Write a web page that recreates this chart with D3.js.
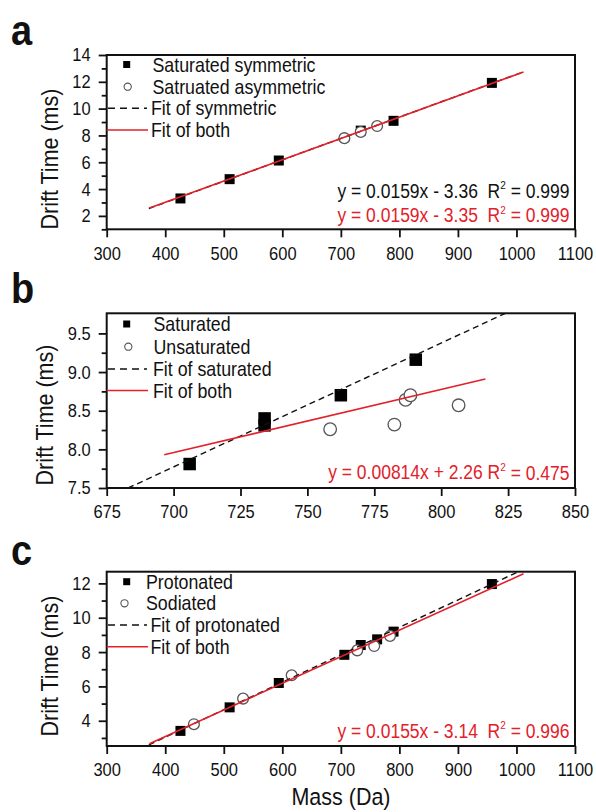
<!DOCTYPE html>
<html>
<head>
<meta charset="utf-8">
<script src="https://cdn.jsdelivr.net/npm/d3@7/dist/d3.min.js"></script>
<style>
  html, body { margin: 0; padding: 0; background: #fff; }
  svg text { font-family: Arial, "Liberation Sans", Helvetica, sans-serif; fill: #111;
    transform-box: fill-box; transform-origin: center; transform: scaleY(1.12); }
</style>
</head>
<body>
<svg id="chart" width="596" height="812"></svg>
<script>
// ---------- DATA ----------
// Panel a
const aSymMass  = [426, 510, 594, 734, 790, 958];
const aSymTime  = [3.30, 4.74, 6.13, 8.36, 9.09, 11.92];
const aAsymMass = [706, 734, 762];
const aAsymTime = [7.80, 8.26, 8.70];
const aFitSym   = [[372, 2.55], [1013, 12.76]];
const aFitBoth  = [[373, 2.58], [1012, 12.74]];
const aLegend   = ["Saturated symmetric", "Satruated asymmetric", "Fit of symmetric", "Fit of both"];
const aEqBlack  = ["y = 0.0159x - 3.36  R", "2", " = 0.999"];
const aEqRed    = ["y = 0.0159x - 3.35  R", "2", " = 0.999"];
const aXTicks   = [300, 400, 500, 600, 700, 800, 900, 1000, 1100];
const aYTicks   = [2, 4, 6, 8, 10, 12, 14];
const aYMinor   = [1, 3, 5, 7, 9, 11, 13];

// Panel b
const bSatMass   = [706, 734, 734, 762.5, 790.5];
const bSatTime   = [7.81, 8.31, 8.40, 8.70, 9.16];
const bUnsatMass = [758.5, 782.5, 786.7, 788.5, 806.5];
const bUnsatTime = [8.26, 8.32, 8.64, 8.70, 8.57];
const bFitSat    = [[683, 7.50], [824, 9.76]];
const bFitBoth   = [[696.5, 7.93], [816.5, 8.91]];
const bLegend    = ["Saturated", "Unsaturated", "Fit of saturated", "Fit of both"];
const bEqRed     = ["y = 0.00814x + 2.26 R", "2", " = 0.475"];
const bXTicks    = [675, 700, 725, 750, 775, 800, 825, 850];
const bYTicks    = [7.5, 8.0, 8.5, 9.0, 9.5];
const bYMinor    = [7.75, 8.25, 8.75, 9.25];

// Panel c
const cProtMass = [426, 510, 594, 706, 734, 762, 790, 958];
const cProtTime = [3.41, 4.78, 6.20, 7.84, 8.41, 8.74, 9.19, 11.96];
const cSodMass  = [449, 533, 616, 728, 757, 784];
const cSodTime  = [3.80, 5.29, 6.65, 8.10, 8.35, 8.94];
const cFitProt  = [[372, 2.60], [1003, 12.68]];
const cFitBoth  = [[373, 2.66], [1012, 12.56]];
const cLegend   = ["Protonated", "Sodiated", "Fit of protonated", "Fit of both"];
const cEqRed    = ["y = 0.0155x - 3.14  R", "2", " = 0.996"];
const cXTicks   = [300, 400, 500, 600, 700, 800, 900, 1000, 1100];
const cYTicks   = [4, 6, 8, 10, 12];
const cYMinor   = [3, 5, 7, 9, 11];

// ---------- DRAW ----------
const RED = "#e3202a";
const svg = d3.select("#chart");
svg.append("rect").attr("width", 596).attr("height", 812).attr("fill", "#fff");

const L = 106.7, R = 575;

function panel(o) {
  const g = svg.append("g");
  const x = d3.scaleLinear().domain(o.xDomain).range([L, R]);
  const y = d3.scaleLinear().domain(o.yDomain).range([o.bottom, o.top]);

  // axes
  const xa = g.append("g").attr("transform", `translate(0,${o.bottom})`)
    .call(d3.axisBottom(x).tickValues(o.xTicks).tickSize(8).tickSizeOuter(0).tickPadding(10)
      .tickFormat(d3.format("d")));
  const ya = g.append("g").attr("transform", `translate(${L},0)`)
    .call(d3.axisLeft(y).tickValues(o.yTicks).tickSize(8).tickSizeOuter(0).tickPadding(8)
      .tickFormat(o.yFmt));
  const ym = g.append("g").attr("transform", `translate(${L},0)`)
    .call(d3.axisLeft(y).tickValues(o.yMinor).tickSize(5).tickSizeOuter(0).tickFormat(""));
  [xa, ya, ym].forEach(a => {
    a.select(".domain").remove();
    a.selectAll("line").attr("stroke", "#111").attr("stroke-width", 1.8);
    a.selectAll("text").attr("font-size", 16.5).attr("fill", "#111");
  });
  // frame
  g.append("rect").attr("x", L).attr("y", o.top).attr("width", R - L).attr("height", o.bottom - o.top)
    .attr("fill", "none").attr("stroke", "#111").attr("stroke-width", 2);

  // markers
  g.selectAll(".sq").data(o.sqMass.map((m, i) => [m, o.sqTime[i]])).join("rect")
    .attr("x", d => x(d[0]) - o.sq / 2).attr("y", d => y(d[1]) - o.sq / 2)
    .attr("width", o.sq).attr("height", o.sq).attr("fill", "#000");
  g.selectAll(".ci").data(o.ciMass.map((m, i) => [m, o.ciTime[i]])).join("circle")
    .attr("cx", d => x(d[0])).attr("cy", d => y(d[1])).attr("r", o.cr)
    .attr("fill", "#fff").attr("stroke", "#555").attr("stroke-width", 1.3);

  // fit lines
  const line = d3.line().x(d => x(d[0])).y(d => y(d[1]));
  g.append("path").attr("d", line(o.fitDash)).attr("fill", "none").attr("stroke", "#111")
    .attr("stroke-width", 1.4).attr("stroke-dasharray", "6,4");
  g.append("path").attr("d", line(o.fitRed)).attr("fill", "none").attr("stroke", RED)
    .attr("stroke-width", 1.6);

  // legend
  const ly = o.legRows;
  g.append("rect").attr("x", 126.7 - 3.5).attr("y", ly[0] - 3.5).attr("width", 7).attr("height", 7).attr("fill", "#000");
  g.append("circle").attr("cx", o.legCircleX).attr("cy", ly[1]).attr("r", 3.6)
    .attr("fill", "#fff").attr("stroke", "#555").attr("stroke-width", 1.1);
  g.append("line").attr("x1", 108).attr("x2", 147).attr("y1", ly[2]).attr("y2", ly[2])
    .attr("stroke", "#111").attr("stroke-width", 1.4).attr("stroke-dasharray", "7,5");
  g.append("line").attr("x1", 106.7).attr("x2", 148).attr("y1", ly[3]).attr("y2", ly[3])
    .attr("stroke", RED).attr("stroke-width", 1.6);
  o.legend.forEach((t, i) => {
    g.append("text").attr("x", i < 2 ? o.legTextX[0] : o.legTextX[1]).attr("y", ly[i]).attr("dy", "0.36em")
      .attr("font-size", 17.8).text(t);
  });

  // equations
  o.eqs.forEach(e => {
    const t = g.append("text").attr("x", 569.5).attr("y", e.y).attr("dy", "0.36em")
      .attr("text-anchor", "end").attr("font-size", 17.5).style("white-space", "pre")
      .style("fill", e.color);
    t.append("tspan").text(e.parts[0]);
    t.append("tspan").attr("font-size", 10).attr("dy", "-0.75em").text(e.parts[1]);
    t.append("tspan").attr("dy", "0.44em").attr("font-size", 17.5).text(e.parts[2]);
  });

  // y title
  g.append("g").attr("transform", `translate(${o.yTitleX},${o.yTitleY}) rotate(-90)`)
    .append("text").attr("text-anchor", "middle").attr("font-size", 21.5).text("Drift Time (ms)");

  // panel letter
  g.append("text").attr("x", 11).attr("y", o.letterY).attr("font-size", 38).attr("font-weight", "bold")
    .text(o.letter);
}

panel({
  letter: "a", letterY: 43,
  xDomain: [300, 1100], yDomain: [1, 14], top: 55, bottom: 229.3,
  xTicks: aXTicks, yTicks: aYTicks, yMinor: aYMinor, yFmt: d3.format("d"),
  sqMass: aSymMass, sqTime: aSymTime, ciMass: aAsymMass, ciTime: aAsymTime, sq: 10, cr: 5.4,
  fitDash: aFitSym, fitRed: aFitBoth,
  legend: aLegend, legRows: [64.5, 86.7, 108.3, 130], legCircleX: 127.7, legTextX: [152.5, 151],
  eqs: [{ y: 190.7, color: "#111", parts: aEqBlack }, { y: 215, color: RED, parts: aEqRed }],
  yTitleX: 57, yTitleY: 159
});

panel({
  letter: "b", letterY: 301,
  xDomain: [675, 850], yDomain: [7.5, 9.76], top: 313.3, bottom: 488,
  xTicks: bXTicks, yTicks: bYTicks, yMinor: bYMinor, yFmt: d3.format(".1f"),
  sqMass: bSatMass, sqTime: bSatTime, ciMass: bUnsatMass, ciTime: bUnsatTime, sq: 12.5, cr: 6.3,
  fitDash: bFitSat, fitRed: bFitBoth,
  legend: bLegend, legRows: [324, 346.7, 369, 390.5], legCircleX: 128.3, legTextX: [153.5, 153],
  eqs: [{ y: 472.3, color: RED, parts: bEqRed }],
  yTitleX: 52, yTitleY: 415
});

panel({
  letter: "c", letterY: 563,
  xDomain: [300, 1100], yDomain: [2.53, 12.68], top: 571.7, bottom: 746,
  xTicks: cXTicks, yTicks: cYTicks, yMinor: cYMinor, yFmt: d3.format("d"),
  sqMass: cProtMass, sqTime: cProtTime, ciMass: cSodMass, ciTime: cSodTime, sq: 10, cr: 5.4,
  fitDash: cFitProt, fitRed: cFitBoth,
  legend: cLegend, legRows: [581.7, 603.3, 625, 646.7], legCircleX: 124.5, legTextX: [146, 150.5],
  eqs: [{ y: 730.7, color: RED, parts: cEqRed }],
  yTitleX: 57, yTitleY: 666
});

// x title
svg.append("text").attr("x", 341).attr("y", 804).attr("text-anchor", "middle")
  .attr("font-size", 21.5).text("Mass (Da)");
</script>
</body>
</html>
